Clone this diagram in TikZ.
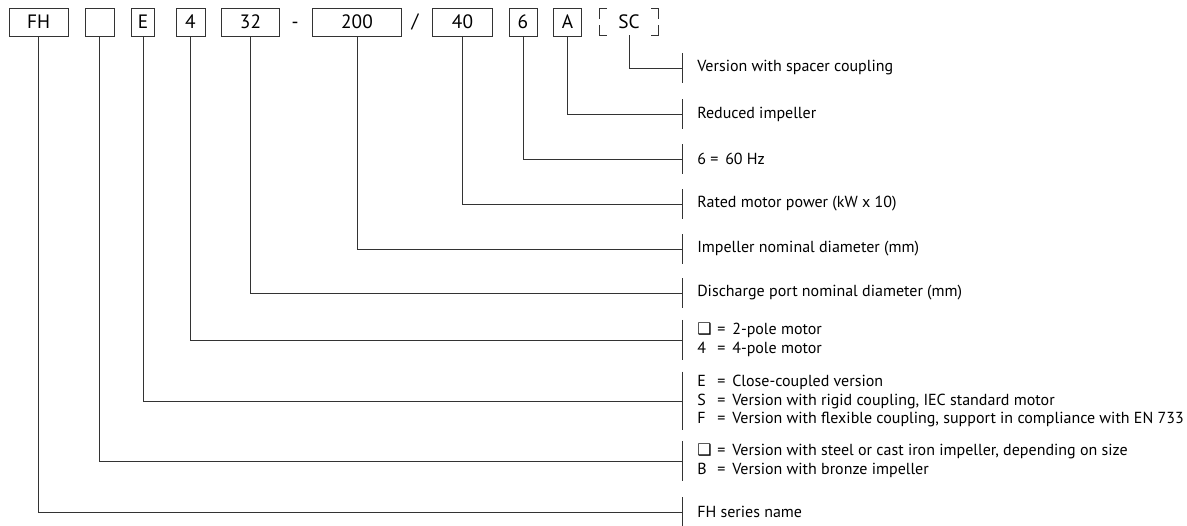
\documentclass[tikz,border=0pt]{standalone}
\usepackage{fontspec}
\setmainfont{PT Sans}
\newfontfamily\fhsym{DejaVu Sans}
\usetikzlibrary{positioning}
\tikzset{
fhcode/.style={rectangle,draw=black!80,line width=0.7pt,inner sep=0pt,minimum height=21pt,font=\fontsize{14.5}{16}\selectfont},
fhsep/.style={inner sep=0pt,font=\fontsize{14.5}{16}\selectfont},
fhdesc/.style={anchor=west,align=left,inner xsep=11.25pt,inner ysep=2.4pt,minimum height=21.75pt,font=\fontsize{12}{13.9}\selectfont},
fhline/.style={draw=black!80,line width=0.7pt}
}
\newcommand{\fhempty}{{\fhsym\fontsize{12}{13}\selectfont\char"2751}}
\newcommand{\fhkey}[2]{\makebox[15pt][l]{#1}=\ \,#2}

\begin{document}
\begin{tikzpicture}[x=0.75pt,y=-0.75pt]
\useasboundingbox (0,0) rectangle (1187,525);
% code boxes
\node[fhcode,minimum width=44.25pt] (fh) at (38.5,22) {FH};
\node[fhcode,minimum width=21.75pt] (mat) at (99.5,22) {};
\node[fhcode,minimum width=17.25pt] (cpl) at (143,22) {E};
\node[fhcode,minimum width=21.75pt] (pole) at (190.5,22) {4};
\node[fhcode,minimum width=43.5pt] (port) at (250.5,22) {32};
\node[fhsep] (dash) at (295,22) {\vphantom{0}-};
\node[fhcode,minimum width=66.75pt] (imp) at (357,22) {200};
\node[fhsep] (slash) at (415,22) {\vphantom{0}/};
\node[fhcode,minimum width=45pt] (pow) at (462.5,22) {40};
\node[fhcode,minimum width=21pt] (freq) at (523,22) {6};
\node[fhcode,minimum width=21pt] (red) at (567.5,22) {A};
\node[fhsep,minimum width=43.5pt,minimum height=19.5pt] (spc) at (629,22) {SC};
\draw[fhline] ([yshift=-7.5pt]spc.north west) |- ([xshift=5.25pt]spc.north west);
\draw[fhline] ([yshift=7.5pt]spc.south west) |- ([xshift=5.25pt]spc.south west);
\draw[fhline] ([yshift=-7.5pt]spc.north east) |- ([xshift=-5.25pt]spc.north east);
\draw[fhline] ([yshift=7.5pt]spc.south east) |- ([xshift=-5.25pt]spc.south east);
% descriptions
\node[fhdesc] (spc-d) at (682,68) {Version with spacer coupling};
\node[fhdesc] (red-d) at (682,114) {Reduced impeller};
\node[fhdesc] (freq-d) at (682,159) {6 =\ \,60 Hz};
\node[fhdesc] (pow-d) at (682,204) {Rated motor power (kW x 10)};
\node[fhdesc] (imp-d) at (682,249) {Impeller nominal diameter (mm)};
\node[fhdesc] (port-d) at (682,293) {Discharge port nominal diameter (mm)};
\node[fhdesc] (pole-d) at (682,340) {\fhkey{\fhempty}{2-pole motor}\\\fhkey{4}{4-pole motor}};
\node[fhdesc] (cpl-d) at (682,401) {\fhkey{E}{Close-coupled version}\\
  \fhkey{S}{Version with rigid coupling, IEC standard motor}\\
  \fhkey{F}{Version with flexible coupling, support in compliance with EN 733}};
\node[fhdesc] (mat-d) at (682,461) {\fhkey{\fhempty}{Version with steel or cast iron impeller, depending on size}\\
  \fhkey{B}{Version with bronze impeller}};
\node[fhdesc] (fh-d) at (682,512) {FH series name};
% leaders
\foreach \c in {fh,mat,cpl,pole,port,imp,pow,freq,red,spc}
  \draw[fhline] (\c.south) |- (\c-d.west) (\c-d.north west) -- (\c-d.south west);
\end{tikzpicture}
\end{document}
